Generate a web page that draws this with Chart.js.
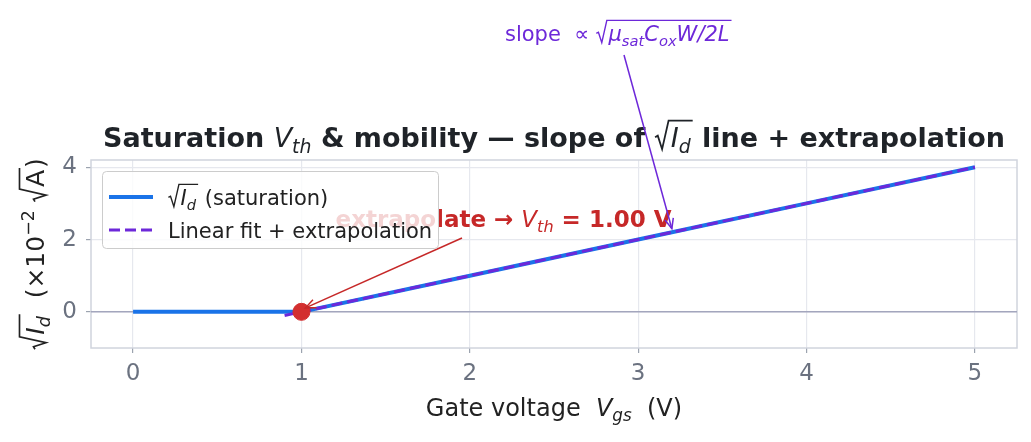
<!DOCTYPE html>
<html>
<head>
<meta charset="utf-8">
<script src="https://cdn.jsdelivr.net/npm/chart.js@4.4.1/dist/chart.umd.min.js"></script>
<style>
  html, body { margin: 0; padding: 0; background: #fff; }
  #wrap { width: 1031px; height: 442px; }
</style>
</head>
<body>
<div id="wrap"><canvas id="c" width="1031" height="442"></canvas></div>
<script>
// --- data ---
const vgsSweep = [0, 0.5, 1, 2, 3, 4, 5];
const sqrtIdSat = [0, 0, 0, 1, 2, 3, 4];       // x10^-2 sqrt(A)
const fitVgs = [0.9, 5];
const fitSqrtId = [-0.1, 4];
const vth = 1.00;
const xTicks = [0, 1, 2, 3, 4, 5];
const yTicks = [0, 2, 4];
const xRange = [-0.25, 5.25];
const yRange = [-1, 4.2];

const BLUE = '#1a73e8';
const PURPLE = '#6d28d9';
const RED = '#c62828';
const FONT = '"DejaVu Sans", sans-serif';

// --- little mathtext-ish text helper ---
function runFont(r, size) {
    const s = (r.sub || r.sup) ? size * 0.7 : size;
    return (r.i ? 'italic ' : '') + (r.b ? 'bold ' : '') + s + 'px ' + FONT;
}
function richWidth(ctx, runs, size) {
    let w = 0;
    runs.forEach(r => {
        if (r.sq === 'open') w += size * 0.6;
        else if (r.sq === 'close') w += 2;
        else { ctx.font = runFont(r, size); w += ctx.measureText(r.t).width; }
    });
    return w;
}
function drawRich(ctx, runs, x, y, size, color, align) {
    let cx = x;
    const w = richWidth(ctx, runs, size);
    if (align === 'center') cx = x - w / 2;
    ctx.save();
    ctx.fillStyle = color;
    ctx.strokeStyle = color;
    ctx.textBaseline = 'alphabetic';
    ctx.textAlign = 'left';
    let sqStart = null;
    runs.forEach(r => {
        if (r.sq === 'open') {
            sqStart = cx;
            cx += size * 0.6;
        } else if (r.sq === 'close') {
            cx += 2;
            const s = size, x0 = sqStart;
            ctx.lineWidth = Math.max(1, s / 15);
            ctx.lineJoin = 'miter';
            ctx.beginPath();
            ctx.moveTo(x0 + 0.02 * s, y - 0.36 * s);
            ctx.lineTo(x0 + 0.12 * s, y - 0.42 * s);
            ctx.lineTo(x0 + 0.28 * s, y + 0.08 * s);
            ctx.lineTo(x0 + 0.52 * s, y - 0.98 * s);
            ctx.lineTo(cx, y - 0.98 * s);
            ctx.stroke();
        } else {
            ctx.font = runFont(r, size);
            let dy = 0;
            if (r.sub) dy = size * 0.22;
            if (r.sup) dy = -size * 0.42;
            ctx.fillText(r.t, cx, y + dy);
            cx += ctx.measureText(r.t).width;
        }
    });
    ctx.restore();
}
function arrow(ctx, x1, y1, x2, y2, color) {
    ctx.save();
    ctx.strokeStyle = color;
    ctx.lineWidth = 1.5;
    ctx.beginPath();
    ctx.moveTo(x1, y1);
    ctx.lineTo(x2, y2);
    ctx.stroke();
    const a = Math.atan2(y2 - y1, x2 - x1);
    const L = 11, sp = 0.4;
    ctx.beginPath();
    ctx.moveTo(x2 - L * Math.cos(a - sp), y2 - L * Math.sin(a - sp));
    ctx.lineTo(x2, y2);
    ctx.lineTo(x2 - L * Math.cos(a + sp), y2 - L * Math.sin(a + sp));
    ctx.stroke();
    ctx.restore();
}

const titleRuns = [
    { t: 'Saturation ', b: 1 }, { t: 'V', i: 1 }, { t: 'th', i: 1, sub: 1 },
    { t: ' & mobility — slope of ', b: 1 }, { sq: 'open' }, { t: 'I', i: 1 }, { t: 'd', i: 1, sub: 1 }, { sq: 'close' },
    { t: ' line + extrapolation', b: 1 }
];
const xLabelRuns = [{ t: 'Gate voltage  ' }, { t: 'V', i: 1 }, { t: 'gs', i: 1, sub: 1 }, { t: '  (V)' }];
const yLabelRuns = [
    { sq: 'open' }, { t: 'I', i: 1 }, { t: 'd', i: 1, sub: 1 }, { sq: 'close' },
    { t: '  (×10' }, { t: '−2', sup: 1 }, { t: ' ' }, { sq: 'open' }, { t: 'A' }, { sq: 'close' }, { t: ')' }
];
const vthRuns = [
    { t: 'extrapolate → ', b: 1 }, { t: 'V', i: 1 }, { t: 'th', i: 1, sub: 1 }, { t: ' = ' + vth.toFixed(2) + ' V', b: 1 }
];
const slopeRuns = [
    { t: 'slope ' }, { t: ' ∝ ' }, { sq: 'open' }, { t: 'μ', i: 1 }, { t: 'sat', i: 1, sub: 1 },
    { t: 'C', i: 1 }, { t: 'ox', i: 1, sub: 1 }, { t: 'W', i: 1 }, { t: '/2', i: 1 }, { t: 'L', i: 1 }, { sq: 'close' }
];
const legendItems = [
    { runs: [{ sq: 'open' }, { t: 'I', i: 1 }, { t: 'd', i: 1, sub: 1 }, { sq: 'close' }, { t: ' (saturation)' }], color: BLUE, dash: [] },
    { runs: [{ t: 'Linear fit + extrapolation' }], color: PURPLE, dash: [11, 5] }
];

const overlay = {
    id: 'overlay',
    beforeDatasetsDraw(chart) {
        const { ctx, chartArea: a } = chart;
        ctx.save();
        ctx.strokeStyle = '#d0d4dd';
        ctx.lineWidth = 1.5;
        ctx.strokeRect(a.left, a.top, a.right - a.left, a.bottom - a.top);
        ctx.restore();
    },
    afterDatasetsDraw(chart) {
        const { ctx, scales: { x, y } } = chart;
        // red annotation
        drawRich(ctx, vthRuns, x.getPixelForValue(2.2), y.getPixelForValue(2.36), 23, RED, 'center');
        arrow(ctx, 462, 238, x.getPixelForValue(vth) + 4, y.getPixelForValue(0) - 4, RED);

        // legend
        ctx.save();
        ctx.beginPath();
        ctx.roundRect(102.5, 171.5, 336, 77, 4);
        ctx.fillStyle = 'rgba(255,255,255,0.8)';
        ctx.fill();
        ctx.strokeStyle = '#cccccc';
        ctx.lineWidth = 1;
        ctx.stroke();
        legendItems.forEach((it, k) => {
            const ly = 197 + k * 33;
            ctx.strokeStyle = it.color;
            ctx.lineWidth = it.dash.length ? 3 : 4;
            ctx.setLineDash(it.dash);
            ctx.beginPath();
            ctx.moveTo(109, ly);
            ctx.lineTo(153, ly);
            ctx.stroke();
            ctx.setLineDash([]);
            drawRich(ctx, it.runs, 168, ly + 8, 21, '#222222', 'left');
        });
        ctx.restore();
    },
    afterDraw(chart) {
        const { ctx, chartArea: a, scales: { x, y } } = chart;
        const midX = (a.left + a.right) / 2;
        drawRich(ctx, titleRuns, midX, 147, 27, '#1f2328', 'center');
        drawRich(ctx, xLabelRuns, midX, 416, 24, '#222222', 'center');
        ctx.save();
        ctx.translate(44, (a.top + a.bottom) / 2);
        ctx.rotate(-Math.PI / 2);
        drawRich(ctx, yLabelRuns, 0, 0, 25, '#222222', 'center');
        ctx.restore();
        // purple slope annotation
        drawRich(ctx, slopeRuns, 505, 41, 21, PURPLE, 'left');
        arrow(ctx, 624, 55, x.getPixelForValue(3.2), y.getPixelForValue(2.3), PURPLE);
    }
};

new Chart(document.getElementById('c'), {
    type: 'scatter',
    data: {
        datasets: [
            {
                label: 'axh',
                data: xRange.map(v => ({ x: v, y: 0 })),
                showLine: true, borderColor: '#a3a6bd', borderWidth: 1.5, pointRadius: 0, order: 4
            },
            {
                label: 'sqrt Id (saturation)',
                data: vgsSweep.map((v, i) => ({ x: v, y: sqrtIdSat[i] })),
                showLine: true, borderColor: BLUE, borderWidth: 4, pointRadius: 0, order: 3
            },
            {
                label: 'Linear fit + extrapolation',
                data: fitVgs.map((v, i) => ({ x: v, y: fitSqrtId[i] })),
                showLine: true, borderColor: PURPLE, borderWidth: 3, borderDash: [11, 5], pointRadius: 0, order: 2
            },
            {
                label: 'Vth',
                data: [{ x: vth, y: 0 }],
                pointRadius: 8.5, pointBackgroundColor: '#d32f2f', pointBorderColor: '#d32f2f', order: 1
            }
        ]
    },
    options: {
        responsive: false,
        animation: false,
        events: [],
        layout: { padding: { left: 0, right: 14, top: 160, bottom: 0 } },
        plugins: { legend: { display: false }, tooltip: { enabled: false }, title: { display: false } },
        scales: {
            x: {
                type: 'linear', min: xRange[0], max: xRange[1],
                afterBuildTicks: s => { s.ticks = xTicks.map(v => ({ value: v })); },
                afterFit: s => { s.height = 94; },
                grid: { color: '#e6e8ee', lineWidth: 1.2, tickColor: '#9ca3af', tickLength: 5 },
                border: { display: false },
                ticks: { color: '#6b7280', font: { family: FONT, size: 23 }, padding: 7, maxRotation: 0 }
            },
            y: {
                type: 'linear', min: yRange[0], max: yRange[1],
                afterBuildTicks: s => { s.ticks = yTicks.map(v => ({ value: v })); },
                afterFit: s => { s.width = 91; },
                grid: { color: '#e6e8ee', lineWidth: 1.2, tickColor: '#9ca3af', tickLength: 5 },
                border: { display: false },
                ticks: { color: '#6b7280', font: { family: FONT, size: 23 }, padding: 9 }
            }
        }
    },
    plugins: [overlay]
});
</script>
</body>
</html>
